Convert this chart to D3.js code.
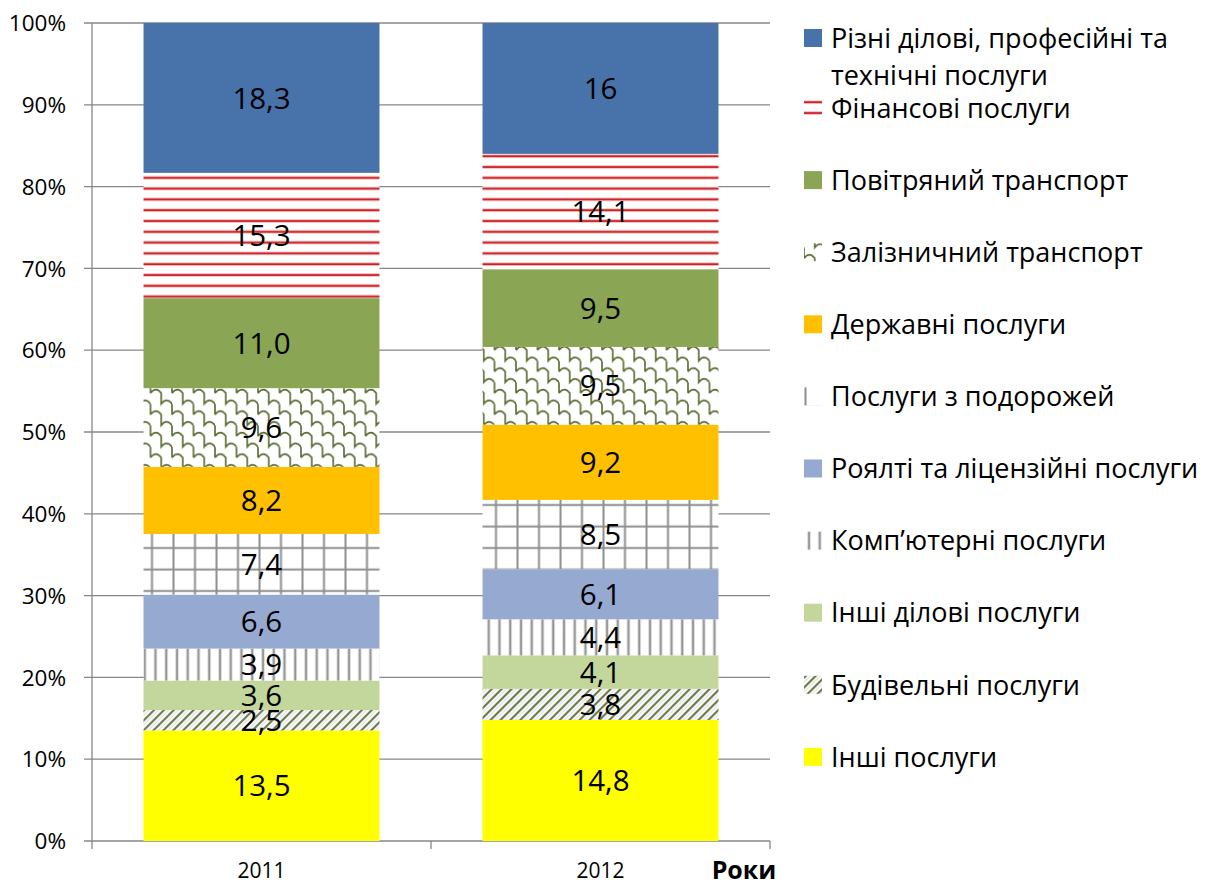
<!DOCTYPE html>
<html>
<head>
<meta charset="utf-8">
<script src="https://cdn.jsdelivr.net/npm/d3@7"></script>
<style>
body { margin:0; background:#fff; }
svg text { font-family: "Open Sans", "Noto Sans", sans-serif; fill:#000; }
</style>
</head>
<body>
<svg id="chart" width="1208" height="886"></svg>
<script>
// years on the x axis
var years = ['2011', '2012']

// series, bottom of the stack first
var seriesNames = [
	'Інші послуги',
	'Будівельні послуги',
	'Інші ділові послуги',
	'Комп’ютерні послуги',
	'Роялті та ліцензійні послуги',
	'Послуги з подорожей',
	'Державні послуги',
	'Залізничний транспорт',
	'Повітряний транспорт',
	'Фінансові послуги',
	'Різні ділові, професійні та технічні послуги'
]

var values2011 = [13.5, 2.5, 3.6, 3.9, 6.6, 7.4, 8.2, 9.6, 11.0, 15.3, 18.3]
var values2012 = [14.8, 3.8, 4.1, 4.4, 6.1, 8.5, 9.2, 9.5, 9.5, 14.1, 16]

// labels exactly as printed on the bars
var labels2011 = ['13,5', '2,5', '3,6', '3,9', '6,6', '7,4', '8,2', '9,6', '11,0', '15,3', '18,3']
var labels2012 = ['14,8', '3,8', '4,1', '4,4', '6,1', '8,5', '9,2', '9,5', '9,5', '14,1', '16']

var yTicks = [0, 0.1, 0.2, 0.3, 0.4, 0.5, 0.6, 0.7, 0.8, 0.9, 1]

// fills per series (colours or pattern ids)
var fills = [
	'#FFFF00', 'url(#p-diag)', '#C3D69B', 'url(#p-vert)', '#95A9D1', 'url(#p-grid)',
	'#FFC000', 'url(#p-shingle)', '#8AA553', 'url(#p-hred)', '#4773AA'
]

var svg = d3.select('#chart')
var margin = {left:92, right:438, top:23, bottom:45}
var width = 1208, height = 886

var rows = years.map(function(y, i) {
	var row = {year:y}
	var vals = i == 0 ? values2011 : values2012
	seriesNames.forEach(function(s, j) { row[s] = vals[j] })
	return row
})
var labelRows = [labels2011, labels2012]

var stack = d3.stack().keys(seriesNames).offset(d3.stackOffsetExpand)
var series = stack(rows)

var x = d3.scaleBand().domain(years)
	.range([margin.left, width - margin.right])
	.paddingInner(0.304).paddingOuter(0.152)
var y = d3.scaleLinear().domain([0, 1]).range([height - margin.bottom, margin.top])

// patterns
var defs = svg.append('defs')
function makePattern(id, w, h) {
	var p = defs.append('pattern').attr('id', id)
		.attr('patternUnits', 'userSpaceOnUse')
		.attr('width', w).attr('height', h)
	p.append('rect').attr('width', w).attr('height', h).attr('fill', '#fff')
	return p
}
var hred = makePattern('p-hred', 20, 10.8)
hred.append('line').attr('x1', 0).attr('x2', 20).attr('y1', 5).attr('y2', 5)
	.attr('stroke', '#F0B4B4').attr('stroke-width', 3.4)
hred.append('line').attr('x1', 0).attr('x2', 20).attr('y1', 5).attr('y2', 5)
	.attr('stroke', '#C8000A').attr('stroke-width', 1.5)

var vert = makePattern('p-vert', 10.75, 20)
vert.append('line').attr('x1', 5).attr('x2', 5).attr('y1', 0).attr('y2', 20)
	.attr('stroke', '#CFCFCF').attr('stroke-width', 3.2)
vert.append('line').attr('x1', 5).attr('x2', 5).attr('y1', 0).attr('y2', 20)
	.attr('stroke', '#858585').attr('stroke-width', 1.4)

var grid = makePattern('p-grid', 21.5, 21.5)
grid.append('path').attr('d', 'M1.5,0V21.5M0,10.5H21.5')
	.attr('stroke', '#8E8E8E').attr('stroke-width', 2).attr('fill', 'none')

var diag = makePattern('p-diag', 7, 7).attr('patternTransform', 'rotate(45)')
diag.append('line').attr('x1', 2).attr('x2', 2).attr('y1', 0).attr('y2', 7)
	.attr('stroke', '#6A7B4C').attr('stroke-width', 2.2)
diag.append('line').attr('x1', 5.2).attr('x2', 5.2).attr('y1', 0).attr('y2', 7)
	.attr('stroke', '#DADADA').attr('stroke-width', 1)

// shingles: chains of small caps stepping down to the right
var shingle = makePattern('p-shingle', 21.5, 21.5)
shingle.append('path')
	.attr('d', 'M0,6 Q5.4,-1 10.75,6 V16.75 Q16.1,9.75 21.5,16.75 V21.5 M0,16.75 V21.5 M0,0 V6 M21.5,0 V6')
	.attr('stroke', '#55692F').attr('stroke-width', 1.6).attr('fill', 'none')

// gridlines
svg.append('g').selectAll('line').data(yTicks).enter().append('line')
	.attr('x1', margin.left - 8).attr('x2', width - margin.right)
	.attr('y1', function(d) { return y(d) }).attr('y2', function(d) { return y(d) })
	.attr('stroke', '#878787').attr('stroke-width', 1.3)

// bars
var layer = svg.append('g').selectAll('g').data(series).enter().append('g')
	.attr('fill', function(d, i) { return fills[i] })
layer.selectAll('rect').data(function(d) { return d }).enter().append('rect')
	.attr('x', function(d) { return x(d.data.year) })
	.attr('width', x.bandwidth())
	.attr('y', function(d) { return y(d[1]) })
	.attr('height', function(d) { return y(d[0]) - y(d[1]) })

// axes
svg.append('line').attr('x1', margin.left).attr('x2', margin.left)
	.attr('y1', margin.top).attr('y2', height - margin.bottom)
	.attr('stroke', '#878787').attr('stroke-width', 1.3)
var xTickPos = [margin.left, margin.left + x.step(), margin.left + 2 * x.step()]
svg.append('g').selectAll('line').data(xTickPos).enter().append('line')
	.attr('x1', function(d) { return d }).attr('x2', function(d) { return d })
	.attr('y1', height - margin.bottom).attr('y2', height - margin.bottom + 8)
	.attr('stroke', '#878787').attr('stroke-width', 1.3)

svg.append('g').selectAll('text').data(yTicks).enter().append('text')
	.attr('x', 66).attr('y', function(d) { return y(d) })
	.attr('dy', '0.36em').attr('text-anchor', 'end')
	.style('font-size', '22.5px')
	.text(function(d) { return Math.round(d * 100) + '%' })

svg.append('g').selectAll('text').data(years).enter().append('text')
	.attr('x', function(d) { return x(d) + x.bandwidth() / 2 })
	.attr('y', 878).attr('text-anchor', 'middle')
	.style('font-size', '21px')
	.text(function(d) { return d })

svg.append('text').attr('x', 744).attr('y', 879).attr('text-anchor', 'middle')
	.style('font-size', '25px').style('font-weight', 'bold').text('Роки')

// data labels
series.forEach(function(s, i) {
	svg.append('g').selectAll('text').data(s).enter().append('text')
		.attr('x', function(d) { return x(d.data.year) + x.bandwidth() / 2 })
		.attr('y', function(d) { return (y(d[0]) + y(d[1])) / 2 })
		.attr('dy', '0.36em').attr('text-anchor', 'middle')
		.style('font-size', '29.5px')
		.text(function(d, j) { return labelRows[j][i] })
})

// legend, top series first
var legendNames = seriesNames.slice().reverse()
var legendFills = fills.slice().reverse()
var legend = svg.append('g').selectAll('g').data(legendNames).enter().append('g')
	.attr('transform', function(d, i) {
		var ly = i == 0 ? 38 : 108 + (i - 1) * 72.1
		return 'translate(804,' + ly + ')'
	})
legend.append('rect').attr('x', 0).attr('y', -9).attr('width', 18).attr('height', 18)
	.attr('fill', function(d, i) { return legendFills[i] })
legend.append('text').attr('x', 27).attr('dy', '0.36em')
	.style('font-size', '27px')
	.each(function(d, i) {
		var t = d3.select(this)
		if (i == 0) {
			t.append('tspan').attr('x', 27).text('Різні ділові, професійні та')
			t.append('tspan').attr('x', 27).attr('dy', 37).text('технічні послуги')
		} else {
			t.text(d)
		}
	})
</script>
</body>
</html>
